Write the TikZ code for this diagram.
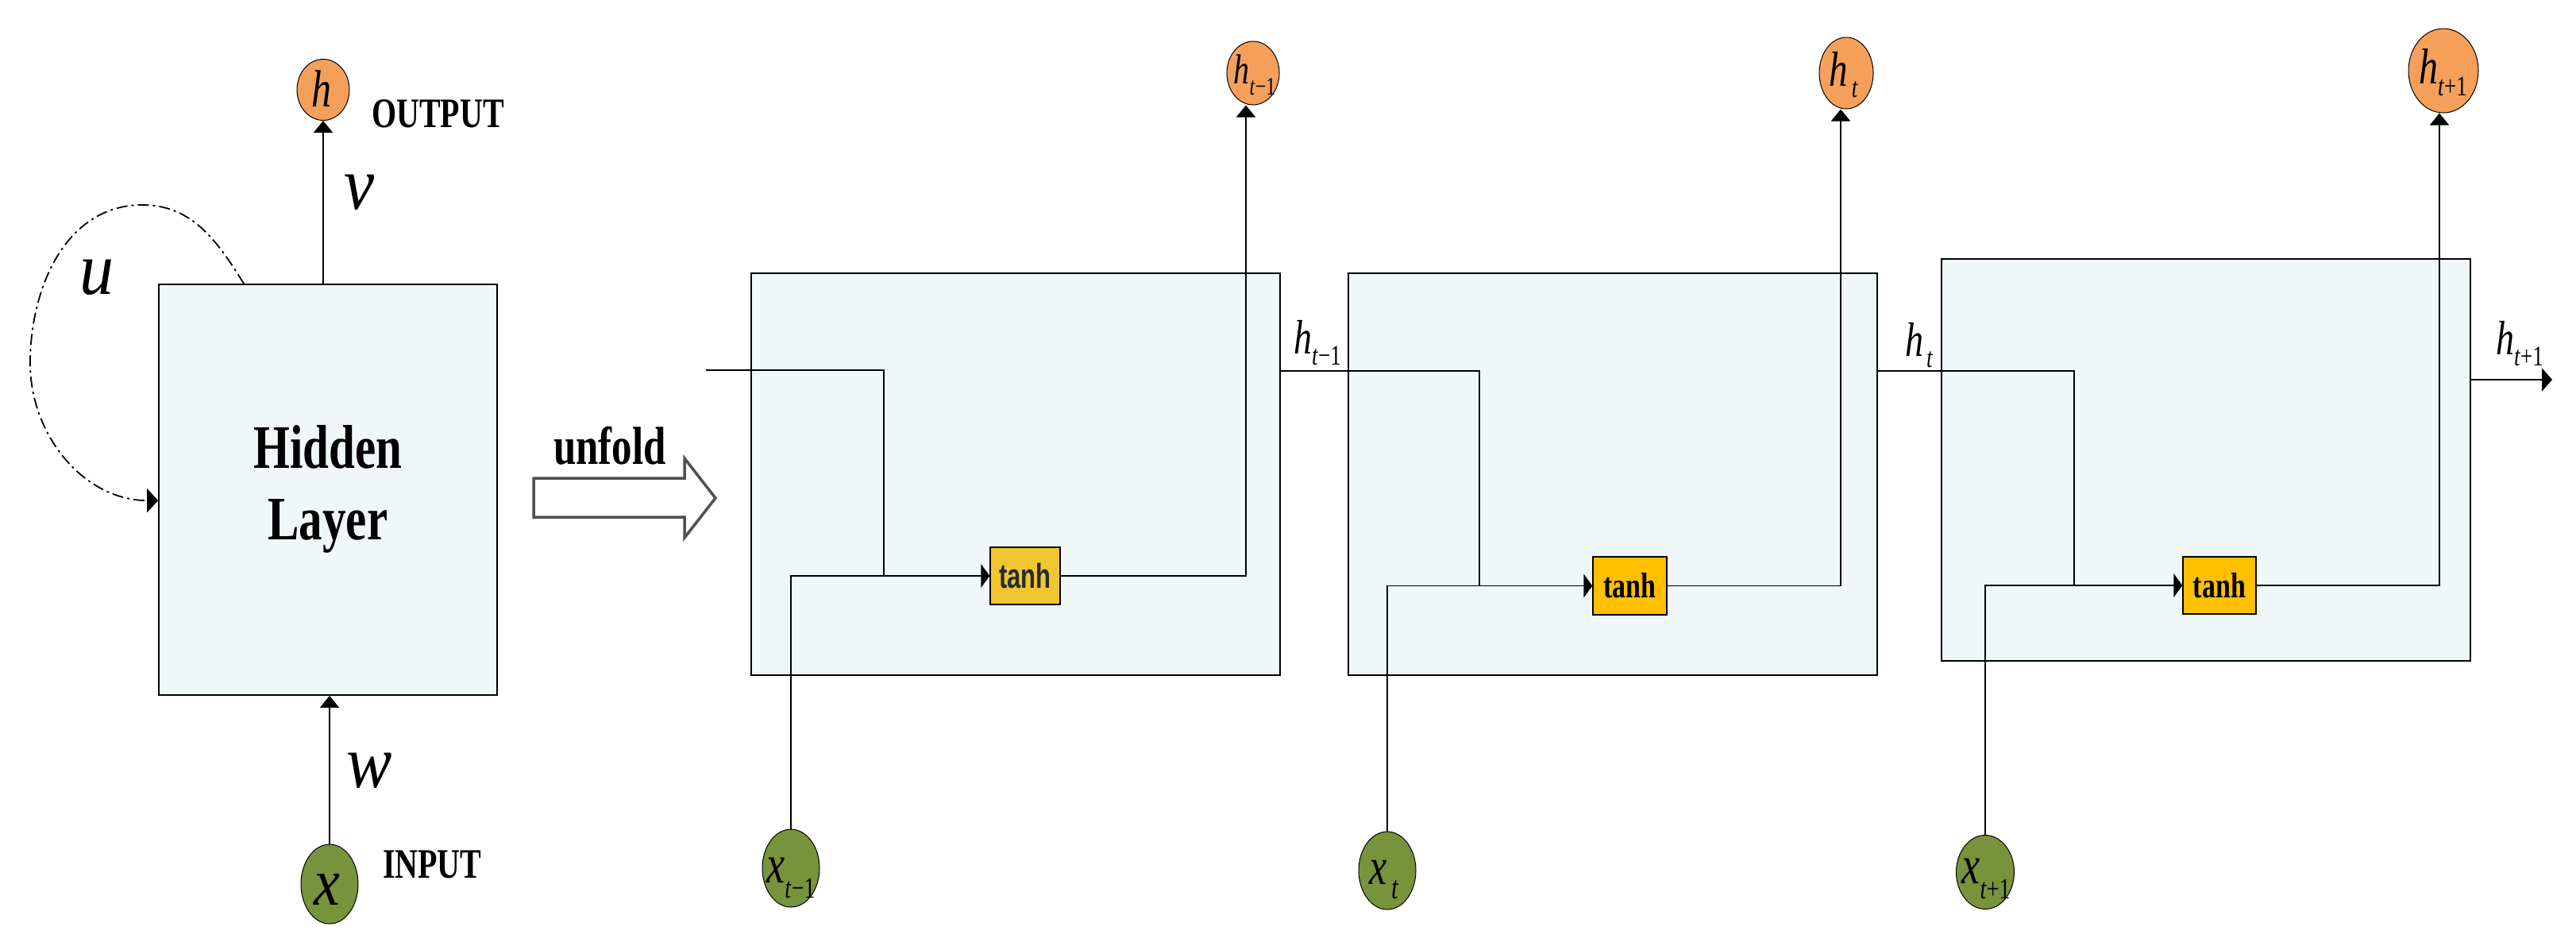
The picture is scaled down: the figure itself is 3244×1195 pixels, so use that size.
\documentclass[tikz,border=0pt]{standalone}
\usepackage{graphicx}
\usepackage{fontspec}
\setmainfont{Liberation Serif}
\newfontfamily\tanhsans{Liberation Sans}
\usetikzlibrary{arrows.meta,shapes.geometric,calc}
\definecolor{cellfill}{RGB}{239,247,249}
\definecolor{orangec}{RGB}{244,160,90}
\definecolor{greenc}{RGB}{119,147,60}
\definecolor{goldA}{RGB}{241,198,48}
\definecolor{goldB}{RGB}{255,192,0}
\definecolor{tanhtext}{RGB}{38,43,43}
\definecolor{unfoldgray}{RGB}{80,80,80}
\newcommand\vstr[2][1.32]{\scalebox{1}[#1]{#2}}
\newcommand\fs[1]{\fontsize{#1}{#1}\selectfont}
\newcommand\ivar[5]{\vstr{\fs{#2}\textit{#1}\raisebox{-#5pt}{\fs{#4}#3}}}
\begin{document}
\begin{tikzpicture}[x=1pt,y=-1pt,
  box/.style={draw, line width=1.8pt, fill=cellfill, inner sep=0},
  cell/.style={box, minimum width=666, minimum height=506},
  tanhA/.style={draw, line width=1.5pt, fill=goldA, inner sep=0, text=tanhtext},
  tanhB/.style={draw, line width=1.5pt, fill=goldB, inner sep=0},
  hcirc/.style={ellipse, draw, line width=1pt, fill=orangec, inner sep=0},
  xcirc/.style={ellipse, draw, line width=1pt, fill=greenc, inner sep=0},
  lab/.style={inner sep=0, outer sep=0},
  wire/.style={line width=1.8pt},
  tipA/.style={-{Triangle[width=24pt,length=15pt]}},
  tipB/.style={-{Triangle[width=30pt,length=11pt]}},
  tipC/.style={-{Triangle[width=29pt,length=13pt]}},
  loopdash/.style={dash pattern=on 14pt off 5pt on 3pt off 5pt}
]
\useasboundingbox (0,0) rectangle (3244,1195);

% ---------- folded RNN ----------
\node[box, minimum width=426, minimum height=517] (hid) at (413,616.5)
  {\vstr{\fontsize{59}{68}\selectfont\bfseries\begin{tabular}{@{}c@{}}Hidden\\Layer\end{tabular}}};
\node[hcirc, minimum width=66, minimum height=77] (hout) at (407,113) {};
\node[lab] (houtt) at (405,112) {\vstr{\fs{50}\textit{h}}};
\node[xcirc, minimum width=72, minimum height=100] (xin) at (415,1113) {};
\node[lab] (xint) at (412,1120) {\vstr[1.15]{\fs{74}\textit{x}}};

\draw[wire, tipA] (hid.north -| hout.south) -- (hout.south);
\draw[wire, tipA] (xin.north) -- (xin.north |- hid.south);

\coordinate (ls) at ($(hid.north west)+(108,0)$);
\coordinate (le) at ($(hid.north west)+(0,273)$);
\draw[wire, loopdash, -{Triangle[width=30pt,length=14pt]}]
  (ls) to[out=122,in=0] (179,258) to[out=180,in=90] (38,457) to[out=-90,in=180] (le);

\node[lab, anchor=base west] (lv) at (433,263) {\vstr[1.1]{\fs{86}\textit{v}}};
\node[lab, anchor=base west] (lu) at (100,370) {\vstr[1.1]{\fs{86}\textit{u}}};
\node[lab, anchor=base west] (lw) at (436,991) {\vstr[1.1]{\fs{86}\textit{w}}};
\node[lab, anchor=base west] (lout) at (468,160) {\vstr{\fs{40}\bfseries OUTPUT}};
\node[lab, anchor=base west] (lin) at (482,1105) {\vstr{\fs{40}\bfseries INPUT}};

% ---------- unfold arrow ----------
\node[lab, anchor=base west] (lunf) at (697,584) {\vstr{\fs{51}\bfseries unfold}};
\draw[line width=3.5pt, draw=unfoldgray, fill=white]
  (672,602) -- (862,602) -- (862,577) -- (901,627) -- (862,677) -- (862,651) -- (672,651) -- cycle;

% ---------- unfolded cells ----------
\node[cell] (b1) at (1279,597) {};
\node[cell] (b2) at (2031,597) {};
\node[cell] (b3) at (2778,579) {};

\node[tanhA, minimum width=88, minimum height=72] (t1) at (1291,725)
  {\vstr[1.4]{\fs{31}\tanhsans\bfseries tanh}};
\node[tanhB, minimum width=93, minimum height=73] (t2) at (2052.5,737.5)
  {\vstr{\fs{34}\bfseries tanh}};
\node[tanhB, minimum width=92, minimum height=72] (t3) at (2795,737)
  {\vstr{\fs{34}\bfseries tanh}};

\node[hcirc, minimum width=66, minimum height=80] (ho1) at (1578,92) {};
\node[hcirc, minimum width=68, minimum height=90] (ho2) at (2325,92) {};
\node[hcirc, minimum width=88, minimum height=106] (ho3) at (3077,89) {};
\node[xcirc, minimum width=72, minimum height=98] (xi1) at (996,1093) {};
\node[xcirc, minimum width=72, minimum height=98] (xi2) at (1747,1096) {};
\node[xcirc, minimum width=73, minimum height=93] (xi3) at (2500,1098) {};

\node[lab] (ho1t) at (1580,94.5) {\ivar{h}{40}{\textit{t}−1}{24}{11}};
\node[lab] (ho2t) at (2321.5,94) {\ivar{h}{47}{\hspace{5pt}\textit{t}}{27}{11}};
\node[lab] (ho3t) at (3076.5,91) {\ivar{h}{48}{\textit{t}+1}{27}{11}};
\node[lab] (xi1t) at (996,1105.5) {\ivar{x}{52}{\textit{t}−1}{28}{14}};
\node[lab] (xi2t) at (1743,1107.5) {\ivar{x}{50}{\hspace{6pt}\textit{t}}{31}{14}};
\node[lab] (xi3t) at (2501,1106.5) {\ivar{x}{52}{\textit{t}+1}{28}{14}};

% cell 1
\coordinate (in1) at (889,466);
\path (t1.west) ++(-133,0) coordinate (j1);
\draw[wire] (in1) -| (j1);
\draw[wire, tipB] (xi1.north) |- (t1.west);
\draw[wire, tipA] (t1.east) -| ([xshift=-9pt]ho1.south);

% cell 2
\coordinate (o1) at ($(b1.east)+(0,-130)$);
\path (t2.west) ++(-142,0) coordinate (j2);
\draw[wire] (o1) -| (j2);
\draw[wire, tipB] (xi2.north) |- (t2.west);
\draw[wire, tipA] (t2.east) -| ([xshift=-7pt]ho2.south);

% cell 3
\coordinate (o2) at ($(b2.east)+(0,-130)$);
\path (t3.west) ++(-136,0) coordinate (j3);
\draw[wire] (o2) -| (j3);
\draw[wire, tipB] (xi3.north) |- (t3.west);
\draw[wire, tipA] (t3.east) -| ([xshift=-5pt]ho3.south);

% output of cell 3
\coordinate (o3) at ($(b3.east)+(0,-101)$);
\coordinate (end3) at (3214,478);
\draw[wire, tipC] (o3) -- (end3);

% hidden-state labels
\node[lab, anchor=base west] (lh1) at (1629,445) {\ivar{h}{46}{\textit{t}−1}{27}{11}};
\node[lab, anchor=base west] (lh2) at (2399,448) {\ivar{h}{46}{\hspace{4pt}\textit{t}}{27}{11}};
\node[lab, anchor=base west] (lh3) at (3143,446) {\ivar{h}{46}{\textit{t}+1}{27}{11}};
\end{tikzpicture}
\end{document}
